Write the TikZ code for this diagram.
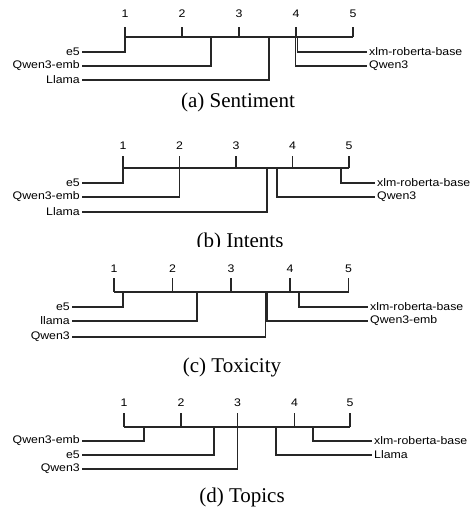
\documentclass[tikz,border=0pt]{standalone}
\usepackage{fontspec}
\newfontfamily\labfont[FakeStretch=1.12]{Liberation Sans}
\newfontfamily\capfont{Liberation Serif}
\begin{document}
\begin{tikzpicture}[x=1pt,y=-1pt,
  ln/.style={line width=1.35pt,black!85},
  num/.style={font=\labfont\fontsize{11}{11}\selectfont,inner sep=0pt,anchor=center},
  lleft/.style={font=\labfont\fontsize{11}{11}\selectfont,anchor=east,inner sep=2pt},
  lright/.style={font=\labfont\fontsize{11}{11}\selectfont,anchor=west,inner sep=2pt},
  capt/.style={font=\capfont\fontsize{21}{21}\selectfont,anchor=base,inner sep=0pt}]
\useasboundingbox (0,0) rectangle (476,509);
\fill[white] (0,0) rectangle (476,509);

% ---------- (a) Sentiment ----------
\foreach \i/\x in {1/125,2/182,3/239,4/296,5/353}{
  \node[num] (a-n\i) at (\x,14) {\i};
  \coordinate (a-tt\i) at (\x,27);
  \coordinate (a-tb\i) at (\x,37);
  \draw[ln] (a-tt\i) -- (a-tb\i);
}
\draw[ln] (a-tb1) -- (a-tb5);
\foreach \n/\t/\x/\y in {e5/e5/125/52, qe/Qwen3-emb/211/66, ll/Llama/269/80}{
  \node[lleft] (a-\n) at (82,\y) {\t};
  \coordinate (a-\n-top) at (\x,37);
  \draw[ln] (a-\n-top) |- (a-\n.east);
}
\foreach \n/\t/\x/\y in {xl/xlm-roberta-base/297.5/52, q3/Qwen3/295.5/66}{
  \node[lright] (a-\n) at (367,\y) {\t};
  \coordinate (a-\n-top) at (\x,37);
  \draw[ln] (a-\n-top) |- (a-\n.west);
}
\node[capt] (a-cap) at (238,107) {(a) Sentiment};

% ---------- (b) Intents ----------
\foreach \i/\x in {1/123,2/179.5,3/236,4/292.5,5/349}{
  \node[num] (b-n\i) at (\x,146) {\i};
  \coordinate (b-tt\i) at (\x,156);
  \coordinate (b-tb\i) at (\x,168);
  \draw[ln] (b-tt\i) -- (b-tb\i);
}
\draw[ln] (b-tb1) -- (b-tb5);
\foreach \n/\t/\x/\y in {e5/e5/123/183, qe/Qwen3-emb/179.5/197, ll/Llama/267/212}{
  \node[lleft] (b-\n) at (82,\y) {\t};
  \coordinate (b-\n-top) at (\x,168);
  \draw[ln] (b-\n-top) |- (b-\n.east);
}
\foreach \n/\t/\x/\y in {xl/xlm-roberta-base/341/183, q3/Qwen3/277/197}{
  \node[lright] (b-\n) at (375,\y) {\t};
  \coordinate (b-\n-top) at (\x,168);
  \draw[ln] (b-\n-top) |- (b-\n.west);
}
\begin{scope}
  \clip (0,220) rectangle (476,246.5);
  \node[capt] (b-cap) at (240,247.5) {(b) Intents};
\end{scope}

% ---------- (c) Toxicity ----------
\foreach \i/\x in {1/114,2/172.5,3/231,4/290,5/348.5}{
  \node[num] (c-n\i) at (\x,269) {\i};
  \coordinate (c-tt\i) at (\x,278);
  \coordinate (c-tb\i) at (\x,292);
  \draw[ln] (c-tt\i) -- (c-tb\i);
}
\draw[ln] (c-tb1) -- (c-tb5);
\foreach \n/\t/\x/\y in {e5/e5/123/307, ll/llama/197/321, q3/Qwen3/265.5/337}{
  \node[lleft] (c-\n) at (72,\y) {\t};
  \coordinate (c-\n-top) at (\x,292);
  \draw[ln] (c-\n-top) |- (c-\n.east);
}
\foreach \n/\t/\x/\y in {xl/xlm-roberta-base/299/307, qe/Qwen3-emb/267/321}{
  \node[lright] (c-\n) at (368,\y) {\t};
  \coordinate (c-\n-top) at (\x,292);
  \draw[ln] (c-\n-top) |- (c-\n.west);
}
\node[capt] (c-cap) at (232,372) {(c) Toxicity};

% ---------- (d) Topics ----------
\foreach \i/\x in {1/124,2/181,3/237.5,4/294.5,5/350}{
  \node[num] (d-n\i) at (\x,403) {\i};
  \coordinate (d-tt\i) at (\x,413);
  \coordinate (d-tb\i) at (\x,427);
  \draw[ln] (d-tt\i) -- (d-tb\i);
}
\draw[ln] (d-tb1) -- (d-tb5);
\foreach \n/\t/\x/\y in {qe/Qwen3-emb/144/441, e5/e5/214/455, q3/Qwen3/237.5/469}{
  \node[lleft] (d-\n) at (82,\y) {\t};
  \coordinate (d-\n-top) at (\x,427);
  \draw[ln] (d-\n-top) |- (d-\n.east);
}
\foreach \n/\t/\x/\y in {xl/xlm-roberta-base/313/441, ll/Llama/276/455}{
  \node[lright] (d-\n) at (372,\y) {\t};
  \coordinate (d-\n-top) at (\x,427);
  \draw[ln] (d-\n-top) |- (d-\n.west);
}
\node[capt] (d-cap) at (242,502) {(d) Topics};
\end{tikzpicture}
\end{document}
